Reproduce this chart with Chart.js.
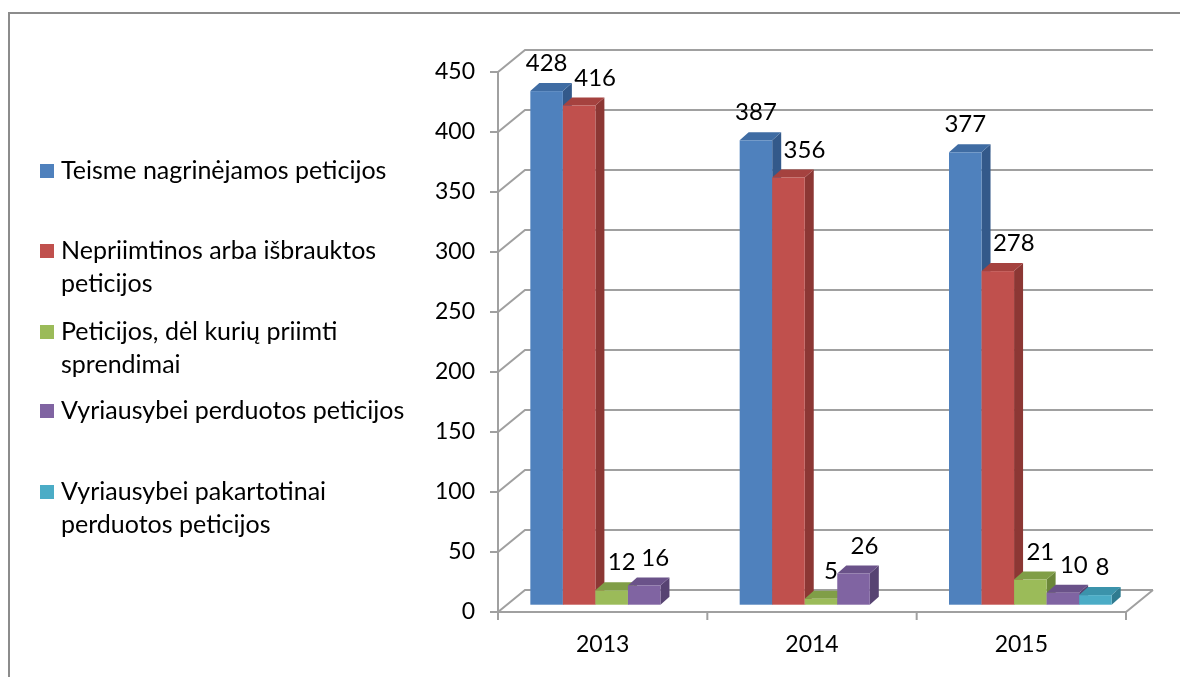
<!DOCTYPE html>
<html>
<head>
<meta charset="utf-8">
<title>Peticijos 2013-2015</title>
<script src="https://cdn.jsdelivr.net/npm/chart.js@4.4.1/dist/chart.umd.min.js"></script>
<style>
  html, body { margin: 0; padding: 0; background: #fff; }
  body { position: relative; width: 1180px; height: 677px; overflow: hidden; }
  #frame { position: absolute; left: 8px; top: 12px; width: 1200px; height: 700px;
           border-left: 2px solid #8c8c8c; border-top: 2px solid #8c8c8c; }
  #chart { position: absolute; left: 0; top: 0; }
</style>
</head>
<body>
<div id="frame"></div>
<canvas id="chart" width="1180" height="677"></canvas>
<script>
// DATA
var years = ["2013", "2014", "2015"];
var seriesNames = [
    ["Teisme nagrinėjamos peticijos"],
    ["Nepriimtinos arba išbrauktos", "peticijos"],
    ["Peticijos, dėl kurių priimti", "sprendimai"],
    ["Vyriausybei perduotos peticijos"],
    ["Vyriausybei pakartotinai", "perduotos peticijos"]
];
var teisme = [428, 387, 377];
var nepriimtinos = [416, 356, 278];
var priimtiSprendimai = [12, 5, 21];
var perduotos = [16, 26, 10];
var pakartotinai = [null, null, 8];
var yMax = 450, yStep = 50;

// colours: front, top, side
var frontColors = ["#4f81bd", "#c0504d", "#9bbb59", "#8064a2", "#4bacc6"];
var topColors = ["#3f6ca3", "#a5423f", "#809e47", "#6a5289", "#3b93ab"];
var sideColors = ["#33598a", "#8c3734", "#6b8739", "#574372", "#2f7b90"];

// 3d geometry (px) relative to the plane the bars stand on
var DEPTH_X = 9, DEPTH_Y = -8;
var FRONT_X = -9, FRONT_Y = 7.3;
var BACK_X = 18, BACK_Y = -14.7;
var LABEL_DX = [0, 16, 10, 11, 7];
var LEGEND_BASE = [179, 259, 340, 419, 500];
var FONT = "Lato";

Chart.defaults.font.family = FONT;

var frame3d = {
    id: 'frame3d',
    beforeDatasetsDraw: function (chart) {
        var ctx = chart.ctx, area = chart.chartArea;
        var ys = chart.scales.y, xs = chart.scales.x;
        var base = ys.getPixelForValue(0), top = ys.getPixelForValue(yMax);
        ctx.save();
        ctx.strokeStyle = '#a0a0a0';
        ctx.lineWidth = 2;
        ys.ticks.forEach(function (t) {
            var py = ys.getPixelForValue(t.value);
            ctx.beginPath();
            ctx.moveTo(area.left + FRONT_X - 8, py + FRONT_Y);
            ctx.lineTo(area.left + FRONT_X, py + FRONT_Y);
            ctx.lineTo(area.left + BACK_X, py + BACK_Y);
            ctx.lineTo(area.right + BACK_X, py + BACK_Y);
            ctx.stroke();
        });
        // floor + front axes
        ctx.beginPath();
        ctx.moveTo(area.left + FRONT_X, top + FRONT_Y);
        ctx.lineTo(area.left + FRONT_X, base + FRONT_Y);
        ctx.lineTo(area.right + FRONT_X, base + FRONT_Y);
        ctx.lineTo(area.right + BACK_X, base + BACK_Y);
        ctx.stroke();
        // category ticks
        var step = xs.getPixelForValue(1) - xs.getPixelForValue(0);
        for (var i = 0; i <= years.length; i++) {
            var px = xs.getPixelForValue(0) - step / 2 + i * step + FRONT_X;
            ctx.beginPath();
            ctx.moveTo(px, base + FRONT_Y);
            ctx.lineTo(px, base + FRONT_Y + 8);
            ctx.stroke();
        }
        ctx.restore();
    },
    beforeDatasetDraw: function () {
        return false; // bars are painted below, in depth order
    },
    afterDatasetsDraw: function (chart) {
        var ctx = chart.ctx;
        var labels = [];
        ctx.save();
        for (var i = 0; i < years.length; i++) {
            chart.data.datasets.forEach(function (ds, d) {
                if (ds.data[i] == null) return;
                var p = chart.getDatasetMeta(d).data[i].getProps(['x', 'y', 'base', 'width'], true);
                var l = p.x - p.width / 2, r = p.x + p.width / 2;
                // side
                ctx.fillStyle = sideColors[d];
                ctx.beginPath();
                ctx.moveTo(r, p.y);
                ctx.lineTo(r + DEPTH_X, p.y + DEPTH_Y);
                ctx.lineTo(r + DEPTH_X, p.base + DEPTH_Y);
                ctx.lineTo(r, p.base);
                ctx.closePath();
                ctx.fill();
                // top
                ctx.fillStyle = topColors[d];
                ctx.beginPath();
                ctx.moveTo(l, p.y);
                ctx.lineTo(l + DEPTH_X, p.y + DEPTH_Y);
                ctx.lineTo(r + DEPTH_X, p.y + DEPTH_Y);
                ctx.lineTo(r, p.y);
                ctx.closePath();
                ctx.fill();
                // front
                ctx.fillStyle = frontColors[d];
                ctx.fillRect(l, p.y, p.width, p.base - p.y);
                labels.push([String(ds.data[i]), p.x + LABEL_DX[d], p.y + DEPTH_Y - 12]);
            });
        }
        ctx.fillStyle = '#000';
        ctx.font = '24px ' + FONT;
        ctx.textAlign = 'center';
        ctx.textBaseline = 'alphabetic';
        labels.forEach(function (lb) {
            ctx.fillText(lb[0], lb[1], lb[2]);
        });
        ctx.restore();
    },
    afterDraw: function (chart) {
        var ctx = chart.ctx;
        ctx.save();
        ctx.font = '25px ' + FONT;
        ctx.textAlign = 'left';
        ctx.textBaseline = 'alphabetic';
        seriesNames.forEach(function (lines, k) {
            var b = LEGEND_BASE[k];
            ctx.fillStyle = frontColors[k];
            ctx.fillRect(40, b - 15, 14, 14);
            ctx.fillStyle = '#000';
            lines.forEach(function (line, j) {
                ctx.fillText(line, 61, b + j * 33);
            });
        });
        ctx.restore();
    }
};

var allSeries = [teisme, nepriimtinos, priimtiSprendimai, perduotos, pakartotinai];

new Chart(document.getElementById('chart'), {
    type: 'bar',
    data: {
        labels: years,
        datasets: allSeries.map(function (values, k) {
            return {
                label: seriesNames[k].join(' '),
                data: values,
                backgroundColor: frontColors[k]
            };
        })
    },
    options: {
        responsive: false,
        animation: false,
        devicePixelRatio: 1,
        layout: {padding: {left: 400, top: 64.7, right: 45, bottom: 0}},
        plugins: {legend: {display: false}, tooltip: {enabled: false}},
        datasets: {bar: {categoryPercentage: 0.777, barPercentage: 1}},
        scales: {
            x: {
                grid: {display: false, drawTicks: false},
                border: {display: false},
                ticks: {labelOffset: FRONT_X, padding: 26, color: '#000', font: {size: 23}},
                afterFit: function (s) { s.height = 72.3; }
            },
            y: {
                min: 0,
                max: yMax,
                grid: {display: false, drawTicks: false},
                border: {display: false},
                ticks: {stepSize: yStep, labelOffset: FRONT_Y, padding: 32, color: '#000', font: {size: 23}},
                afterFit: function (s) { s.width = 107; }
            }
        }
    },
    plugins: [frame3d]
});
</script>
</body>
</html>
